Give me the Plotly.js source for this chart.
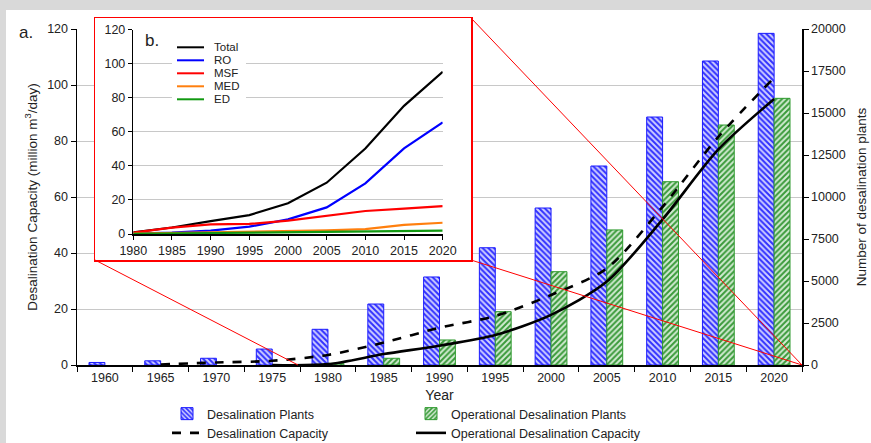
<!DOCTYPE html>
<html><head><meta charset="utf-8">
<script src="https://cdn.plot.ly/plotly-3.0.1.min.js"></script>
<style>
html,body{margin:0;padding:0;background:#d9d9d9;width:871px;height:443px;overflow:hidden}
#chart{position:absolute;left:6px;top:10px;width:865px;height:433px;background:#fff}
</style></head><body><div id="chart"></div>
<script>
// ---------- data ----------
const years = ['1960','1965','1970','1975','1980','1985','1990','1995','2000','2005','2010','2015','2020'];
const desalPlants = [150, 250, 400, 950, 2125, 3630, 5240, 6980, 9345, 11845, 14760, 18095, 19740];
const operPlants = [null, null, null, null, 100, 400, 1490, 3175, 5555, 8040, 10910, 14285, 15873];
const desalCapacity = [null, 0.2, 0.9, 1.5, 3.6, 8, 13.3, 17.5, 25, 34.5, 56.5, 81.5, 102.6];
const operCapacity = [null, null, null, 0, 0.3, 3.9, 6.9, 10.7, 17.9, 29.8, 52, 77, 95];

const insetYears = [1980, 1985, 1990, 1995, 2000, 2005, 2010, 2015, 2020];
const totalCap = [1, 3.8, 7.6, 11.1, 18, 30.1, 50.2, 75.2, 95.2];
const roCap = [0.3, 0.8, 2, 4.3, 8.6, 15.6, 29.7, 50.2, 65.5];
const msfCap = [0.8, 3.7, 5.7, 5.9, 7.8, 10.6, 13.5, 14.9, 16.4];
const medCap = [0.2, 0.5, 0.8, 1.2, 1.6, 2.1, 2.9, 5.3, 6.6];
const edCap = [0.1, 0.3, 0.6, 0.8, 1.0, 1.3, 1.6, 1.9, 2.0];
const insetNames = ['Total', 'RO', 'MSF', 'MED', 'ED'];
const insetSeries = [totalCap, roCap, msfCap, medCap, edCap];
const insetColors = ['#000000', '#0000ff', '#ff0000', '#ff7f0e', '#119911'];

// ---------- geometry helpers (page pixel -> paper fraction) ----------
const PL = 77, PR = 802, PT = 18, PB = 365;
const px = x => (x - PL) / (PR - PL);
const py = y => (PB - y) / (PB - PT);

const FONT = 'Liberation Sans, Arial, sans-serif';
const TXT = '#222';

const traces = [
  {type: 'bar', name: 'Desalination Plants', x: years, y: desalPlants, xaxis: 'x', yaxis: 'y',
   marker: {color: '#2b2bff', line: {color: '#1a1aff', width: 1},
            pattern: {shape: '\\', fgcolor: '#3030ff', bgcolor: '#d0d0ff', size: 4, solidity: 0.5}},
   hoverinfo: 'x+y'},
  {type: 'bar', name: 'Operational Desalination Plants', x: years, y: operPlants, xaxis: 'x', yaxis: 'y',
   marker: {color: '#2e9a2e', line: {color: '#2e9a2e', width: 1},
            pattern: {shape: '/', fgcolor: '#3a9a3a', bgcolor: '#d2ebd2', size: 4, solidity: 0.5}},
   hoverinfo: 'x+y'},
  {type: 'scatter', mode: 'lines', name: 'Desalination Capacity', x: years, y: desalCapacity,
   xaxis: 'x', yaxis: 'y2', line: {color: '#000', width: 2.6, dash: 'dash', shape: 'spline', smoothing: 0.8}},
  {type: 'scatter', mode: 'lines', name: 'Operational Desalination Capacity', x: years, y: operCapacity,
   xaxis: 'x', yaxis: 'y2', line: {color: '#000', width: 2.6, shape: 'spline', smoothing: 0.8}},
  // frame subplot for the inset (white box with red border)
  {type: 'scatter', mode: 'lines', x: [null], y: [null], xaxis: 'x3', yaxis: 'y3', showlegend: false, hoverinfo: 'skip'}
];
insetNames.forEach((n, i) => {
  traces.push({type: 'scatter', mode: 'lines', name: n, x: insetYears, y: insetSeries[i],
    xaxis: 'x4', yaxis: 'y4', showlegend: false, line: {color: insetColors[i], width: 2.2}});
});

const mainTop = py(29);
const shapes = [
  {type: 'line', xref: 'paper', yref: 'paper', x0: px(95), y0: py(260), x1: px(298), y1: 0, line: {color: '#ff0000', width: 1}},
  {type: 'line', xref: 'paper', yref: 'paper', x0: px(471), y0: 1, x1: 1, y1: 0, line: {color: '#ff0000', width: 1}},
  {type: 'line', xref: 'paper', yref: 'paper', x0: px(471), y0: py(260), x1: 1, y1: 0, line: {color: '#ff0000', width: 1}},
  // inset legend background
  {type: 'rect', xref: 'paper', yref: 'paper', x0: px(172), x1: px(246), y0: py(106), y1: py(39),
   fillcolor: '#fff', line: {width: 0}}
];
const annotations = [
  {text: 'a.', xref: 'paper', yref: 'paper', x: px(26), y: py(32), xanchor: 'center', yanchor: 'middle',
   showarrow: false, font: {family: FONT, size: 17, color: TXT}},
  {text: 'b.', xref: 'paper', yref: 'paper', x: px(152), y: py(40), xanchor: 'center', yanchor: 'middle',
   showarrow: false, font: {family: FONT, size: 17, color: TXT}}
];
insetNames.forEach((n, i) => {
  const yy = 47.3 + 13 * i;
  shapes.push({type: 'line', xref: 'paper', yref: 'paper', x0: px(177), x1: px(204), y0: py(yy), y1: py(yy),
    line: {color: insetColors[i], width: 2}});
  annotations.push({text: n, xref: 'paper', yref: 'paper', x: px(213), y: py(yy), xanchor: 'left', yanchor: 'middle',
    showarrow: false, borderpad: 0, font: {family: FONT, size: 11.5, color: TXT}});
});

const axLine = {showline: true, linecolor: '#000', linewidth: 1.5, ticks: 'outside', tickcolor: '#000', ticklen: 5,
  tickfont: {family: FONT, size: 12.5, color: TXT}, zeroline: false, automargin: false};

const layout = {
  width: 865, height: 433,
  margin: {l: PL - 6, r: 871 - PR, t: PT - 10, b: 443 - PB, autoexpand: false},
  paper_bgcolor: '#fff', plot_bgcolor: '#fff',
  font: {family: FONT, color: TXT},
  showlegend: true,
  barmode: 'group', bargap: 0.43, bargroupgap: 0,
  xaxis: Object.assign({}, axLine, {type: 'category', tickson: 'boundaries', domain: [0, 1], anchor: 'y',
    title: {text: 'Year', font: {family: FONT, size: 14, color: TXT}, standoff: 6}}),
  yaxis: Object.assign({}, axLine, {side: 'right', anchor: 'x', domain: [0, mainTop], range: [0, 20000], dtick: 2500,
    tickformat: 'd', showgrid: false,
    title: {text: 'Number of desalination plants', font: {family: FONT, size: 13.5, color: TXT}, standoff: 11}}),
  yaxis2: Object.assign({}, axLine, {overlaying: 'y', side: 'left', anchor: 'x', domain: [0, mainTop], range: [0, 120], dtick: 20,
    showgrid: true, gridcolor: '#c8c8c8', gridwidth: 1,
    title: {text: 'Desalination Capacity (million m<sup>3</sup>/day)', font: {family: FONT, size: 13.5, color: TXT}, standoff: 6}}),
  xaxis3: {domain: [px(95), px(471)], anchor: 'y3', range: [0, 1], showline: true, mirror: true, linecolor: '#ff0000', linewidth: 1.5,
    showgrid: false, zeroline: false, showticklabels: false, ticks: '', fixedrange: true, automargin: false},
  yaxis3: {domain: [py(260), 1], anchor: 'x3', range: [0, 1], showline: true, mirror: true, linecolor: '#ff0000', linewidth: 1.5,
    showgrid: false, zeroline: false, showticklabels: false, ticks: '', fixedrange: true, automargin: false},
  xaxis4: Object.assign({}, axLine, {domain: [px(133.3), px(442.7)], anchor: 'y4', range: [1980, 2020], dtick: 5, tick0: 1980,
    showgrid: false, ticklen: 4, tickfont: {family: FONT, size: 12.5, color: TXT}}),
  yaxis4: Object.assign({}, axLine, {domain: [py(234), py(29.5)], anchor: 'x4', range: [0, 120], dtick: 20,
    showgrid: true, gridcolor: '#c8c8c8', ticklen: 4}),
  legend: {orientation: 'h', x: px(167), xanchor: 'left', y: py(399), yanchor: 'top',
    entrywidth: 199, entrywidthmode: 'pixels', font: {family: FONT, size: 12.5, color: TXT}, bgcolor: 'rgba(0,0,0,0)', traceorder: 'normal'},
  shapes: shapes,
  annotations: annotations
};

Plotly.newPlot('chart', traces, layout, {staticPlot: true, displayModeBar: false});
</script></body></html>
